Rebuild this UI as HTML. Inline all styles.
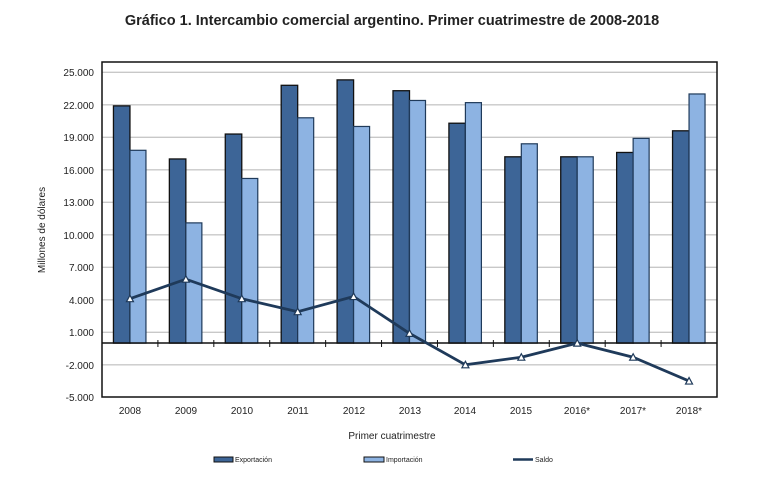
<!DOCTYPE html>
<html><head><meta charset="utf-8"><style>
body{margin:0;background:#fff;}
svg{display:block;font-family:"Liberation Sans",sans-serif;}
</style></head><body>
<svg id="s" width="764" height="490" viewBox="0 0 764 490">
<text x="392" y="25" text-anchor="middle" font-size="14.5" font-weight="bold" fill="#222">Gráfico 1. Intercambio comercial argentino. Primer cuatrimestre de 2008-2018</text>
<g id="grid" stroke="#c8c8c8" stroke-width="1.3"></g>
<g id="bars"></g>
<rect x="102" y="62" width="615" height="335" fill="none" stroke="#111" stroke-width="1.5"/>
<line x1="102" y1="343" x2="717" y2="343" stroke="#111" stroke-width="1.5"/>
<g id="ticks" stroke="#111" stroke-width="1"></g>
<g id="line"></g>
<g font-size="10" fill="#222" text-anchor="end">
<text x="94" y="76">25.000</text><text x="94" y="109">22.000</text><text x="94" y="141">19.000</text><text x="94" y="174">16.000</text><text x="94" y="206">13.000</text><text x="94" y="239">10.000</text><text x="94" y="271">7.000</text><text x="94" y="304">4.000</text><text x="94" y="336">1.000</text><text x="94" y="369">-2.000</text><text x="94" y="401">-5.000</text>
</g>
<g font-size="10" fill="#222" text-anchor="middle">
<text x="130" y="414">2008</text><text x="186" y="414">2009</text><text x="242" y="414">2010</text><text x="298" y="414">2011</text><text x="354" y="414">2012</text><text x="410" y="414">2013</text><text x="465" y="414">2014</text><text x="521" y="414">2015</text><text x="577" y="414">2016*</text><text x="633" y="414">2017*</text><text x="689" y="414">2018*</text>
<text x="392" y="439">Primer cuatrimestre</text>
</g>
<text transform="translate(45,230) rotate(-90)" font-size="10" fill="#222" text-anchor="middle">Millones de dólares</text>
<rect x="214" y="457" width="19" height="5" fill="#3d6597" stroke="#111"/>
<text x="235" y="462" font-size="7" fill="#222">Exportación</text>
<rect x="364" y="457" width="20" height="5" fill="#8db3e2" stroke="#111"/>
<text x="386" y="462" font-size="7" fill="#222">Importación</text>
<line x1="513" y1="459.5" x2="533" y2="459.5" stroke="#1f3a5a" stroke-width="2.5"/>
<text x="535" y="462" font-size="7" fill="#222">Saldo</text>
</svg>
<script>
var NS="http://www.w3.org/2000/svg";
function el(p,t,a){var e=document.createElementNS(NS,t);for(var k in a)e.setAttribute(k,a[k]);document.getElementById(p).appendChild(e);return e;}
function Y(v){return 72.3+(25000-v)*0.010833;}
for(var v=25000;v>=-2000;v-=3000){el("grid","line",{x1:102,x2:717,y1:Y(v),y2:Y(v)});}
var ex=[21900,17000,19300,23800,24300,23300,20300,17200,17200,17600,19600];
var im=[17800,11100,15200,20800,20000,22400,22200,18400,17200,18900,23000];
var sa=[4100,5900,4100,2900,4300,900,-2000,-1300,0,-1300,-3500];
var w=615/11,pts=[];
for(var i=0;i<11;i++){var c=102+w*(i+0.5);
el("bars","rect",{x:c-16.5,y:Y(ex[i]),width:16.5,height:Y(0)-Y(ex[i]),fill:"#3d6597",stroke:"#111","stroke-width":1.3});
el("bars","rect",{x:c,y:Y(im[i]),width:16,height:Y(0)-Y(im[i]),fill:"#8db3e2",stroke:"#1f3a5a","stroke-width":1.2});
if(i>0)el("ticks","line",{x1:102+w*i,x2:102+w*i,y1:340,y2:347});
pts.push([c,Y(sa[i])]);}
el("line","polyline",{points:pts.map(function(p){return p.join(",")}).join(" "),fill:"none",stroke:"#1f3a5a","stroke-width":2.8});
pts.forEach(function(p){el("line","polygon",{points:(p[0]-3.5)+","+(p[1]+3)+" "+(p[0]+3.5)+","+(p[1]+3)+" "+p[0]+","+(p[1]-3.5),fill:"#fff",stroke:"#1f3a5a","stroke-width":1.2});});
</script>
</body></html>
